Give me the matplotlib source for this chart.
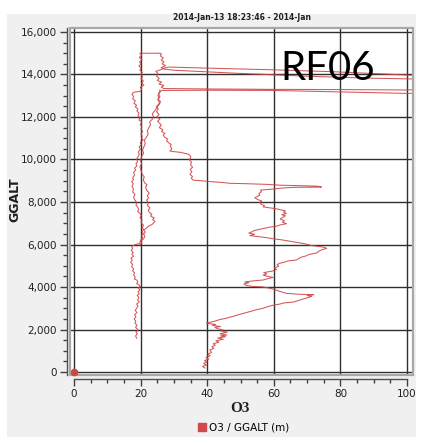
import matplotlib
matplotlib.use("Agg")
import matplotlib.pyplot as plt
from matplotlib.patches import Rectangle
from matplotlib.lines import Line2D
from matplotlib.ticker import MultipleLocator, FuncFormatter

# RF06 profiles: (O3 ppbv, GGALT m)
ascent = [
    (39.3, 190), (38.6, 260), (39.8, 330), (38.9, 400), (39.9, 470), (39.2, 540), (40.5, 610), (39.6, 680), (40.9, 760), (40.2, 840),
    (41.3, 920), (40.8, 1040), (42.0, 1110), (41.4, 1190), (42.4, 1260), (41.8, 1330), (43.5, 1400), (42.6, 1470), (44.8, 1540), (43.2, 1600),
    (45.5, 1660), (44.0, 1700), (45.9, 1740), (43.8, 1800), (46.0, 1870), (44.2, 1930), (44.8, 1980), (43.0, 2040), (42.3, 2100), (44.0, 2140),
    (41.6, 2190), (42.5, 2240), (40.2, 2280), (39.8, 2300), (42.0, 2380), (43.6, 2460), (45.9, 2540), (47.8, 2620), (49.5, 2700), (51.8, 2800),
    (53.2, 2860), (54.8, 2930), (56.8, 3000), (58.0, 3070), (59.5, 3130), (61.9, 3200), (63.0, 3250), (65.8, 3290), (66.5, 3320), (71.4, 3560),
    (70.0, 3600), (72.0, 3640), (67.5, 3660), (63.8, 3700), (62.5, 3760), (61.2, 3830), (59.8, 3900), (58.2, 3960), (56.8, 4000), (53.5, 4030),
    (51.8, 4070), (51.0, 4140), (52.5, 4200), (51.3, 4240), (54.0, 4290), (56.8, 4330), (57.9, 4380), (59.8, 4450), (58.2, 4500), (56.8, 4560),
    (57.9, 4620), (57.0, 4680), (59.6, 4750), (60.8, 4820), (60.2, 4900), (61.5, 4980), (61.0, 5060), (61.9, 5120), (63.5, 5180), (64.2, 5230),
    (66.8, 5270), (67.5, 5340), (68.2, 5400), (69.8, 5470), (70.5, 5530), (72.8, 5600), (73.5, 5680), (74.2, 5740), (75.9, 5820), (74.8, 5880),
    (71.0, 5960), (69.5, 6030), (66.8, 6100), (64.5, 6160), (62.3, 6220), (59.8, 6270), (57.5, 6330), (55.0, 6380), (52.8, 6420), (54.2, 6480),
    (52.5, 6540), (53.5, 6600), (54.0, 6650), (55.8, 6720), (57.5, 6770), (58.8, 6820), (60.8, 6860), (61.9, 6920), (63.8, 6980), (62.6, 7050),
    (63.2, 7120), (61.9, 7200), (62.7, 7280), (63.5, 7350), (62.4, 7400), (63.8, 7460), (62.9, 7520), (63.5, 7580), (62.2, 7630), (60.8, 7680),
    (59.0, 7720), (56.8, 7770), (57.2, 7830), (56.1, 7900), (55.8, 7980), (56.4, 8050), (55.2, 8110), (54.3, 8200), (55.1, 8260), (55.8, 8320),
    (55.5, 8400), (56.3, 8480), (56.0, 8560), (59.8, 8610), (62.8, 8660), (66.0, 8690), (74.3, 8700), (73.5, 8740), (70.0, 8760), (62.0, 8790),
    (57.8, 8830), (52.0, 8860), (46.8, 8880), (44.5, 8920), (40.8, 8960), (38.2, 9000), (35.8, 9030), (35.2, 9120), (35.6, 9200), (34.8, 9300),
    (35.4, 9420), (34.9, 9530), (35.6, 9640), (35.0, 9760), (35.3, 9880), (34.6, 9990), (35.1, 10100), (34.8, 10200), (34.2, 10260), (33.0, 10300),
    (31.8, 10340), (30.0, 10370), (28.8, 10400), (29.4, 10500), (28.9, 10620), (29.2, 10700), (28.4, 10790), (27.8, 10880), (28.1, 10960), (27.2, 11050),
    (26.8, 11150), (27.3, 11230), (26.3, 11320), (26.7, 11400), (25.6, 11500), (26.2, 11600), (25.8, 11700), (25.1, 11800), (25.8, 11900), (24.9, 12000),
    (25.5, 12120), (24.8, 12250), (25.3, 12380), (24.7, 12480), (25.4, 12600), (26.0, 12720), (25.2, 12850), (25.8, 12960), (25.3, 13080), (25.8, 13200),
]

top = [
    (25.8, 13200), (26.5, 13250), (40.0, 13260), (60.0, 13250), (80.0, 13180), (100.0, 13110), (112.0, 13150), (103.0, 13300), (100.0, 13270), (80.0, 13290),
    (60.0, 13300), (40.0, 13320), (27.0, 13340), (26.2, 13400), (27.0, 13480), (25.5, 13560), (26.3, 13640), (25.0, 13720), (25.6, 13820), (24.8, 13920),
    (25.2, 14050), (24.6, 14150), (26.0, 14220), (27.0, 14300), (28.5, 14350), (40.0, 14300), (60.0, 14220), (78.0, 14130), (102.0, 13960), (112.0, 13900),
    (102.0, 13790), (88.0, 13830), (70.0, 13920), (50.0, 14050), (30.0, 14200), (26.8, 14260), (26.2, 14330), (27.5, 14420), (26.5, 14500), (27.0, 14600),
    (26.2, 14680), (26.8, 14780), (25.9, 14880), (26.3, 14960), (25.8, 15000), (23.0, 15000), (20.0, 15000),
]

descent = [
    (19.8, 15000), (20.3, 14900), (19.6, 14800), (20.4, 14700), (19.7, 14600), (20.1, 14500), (19.5, 14400), (20.2, 14300), (19.8, 14210), (20.5, 14100),
    (20.0, 14000), (20.6, 13900), (20.1, 13800), (20.8, 13700), (20.4, 13590), (21.0, 13500), (19.9, 13400), (20.3, 13300), (19.8, 13200), (18.5, 13180),
    (17.8, 13150), (17.4, 13060), (17.9, 12960), (17.6, 12860), (18.4, 12760), (18.0, 12650), (18.8, 12550), (18.4, 12480), (19.2, 12380), (18.9, 12280),
    (19.5, 12180), (19.2, 12080), (19.8, 11960), (19.5, 11860), (20.4, 11760), (19.9, 11650), (20.4, 11540), (20.1, 11430), (20.6, 11320), (20.1, 11200),
    (20.5, 11100), (20.3, 10990), (20.8, 10920), (19.9, 10800), (20.2, 10700), (19.6, 10600), (19.9, 10480), (19.3, 10360), (19.6, 10250), (19.3, 10140),
    (18.8, 10020), (19.1, 9900), (18.6, 9800), (18.9, 9700), (18.2, 9600), (18.5, 9500), (17.9, 9380), (18.2, 9260), (17.6, 9140), (17.9, 9050),
    (17.3, 8960), (17.8, 8850), (17.4, 8740), (17.9, 8600), (17.6, 8480), (18.3, 8360), (17.9, 8220), (18.3, 8090), (18.9, 7960), (18.6, 7860),
    (19.1, 7760), (19.4, 7650), (19.1, 7560), (19.8, 7470), (20.2, 7360), (19.8, 7260), (20.5, 7160), (20.1, 7080), (20.3, 7000), (20.9, 6900),
    (20.5, 6800), (20.9, 6700), (20.4, 6620), (20.8, 6520), (20.3, 6420), (20.6, 6330), (20.2, 6250), (19.9, 6150), (19.8, 6050), (18.5, 6000),
    (17.3, 5920), (17.6, 5820), (17.2, 5720), (17.8, 5620), (17.4, 5540), (17.9, 5450), (17.1, 5360), (17.5, 5260), (17.0, 5160), (17.6, 5060),
    (17.3, 4960), (17.9, 4860), (17.6, 4760), (18.2, 4660), (17.9, 4560), (18.4, 4460), (18.1, 4380), (18.8, 4330), (19.2, 4240), (18.8, 4160),
    (19.5, 4100), (19.9, 4020), (19.3, 3960), (19.8, 3860), (19.2, 3770), (19.6, 3680), (19.0, 3600), (19.5, 3500), (19.1, 3400), (19.6, 3300),
    (18.8, 3200), (19.2, 3100), (18.8, 3000), (18.4, 2900), (18.9, 2800), (18.2, 2700), (18.6, 2600), (18.1, 2500), (18.5, 2400), (18.3, 2300),
    (18.9, 2200), (18.5, 2100), (19.3, 1980), (18.6, 1880), (19.0, 1800), (18.5, 1700), (18.8, 1590),
]

second_climb = [
    (19.8, 5980), (20.4, 6080), (20.0, 6160), (20.8, 6250), (21.3, 6380), (20.9, 6480), (21.4, 6580), (21.0, 6680), (21.8, 6780), (22.3, 6850),
    (23.5, 6950), (24.3, 7090), (23.6, 7180), (24.1, 7250), (23.0, 7340), (23.4, 7420), (22.6, 7520), (22.3, 7620), (22.8, 7720), (22.0, 7850),
    (22.4, 7960), (21.8, 8090), (22.4, 8200), (22.0, 8300), (22.6, 8420), (21.8, 8560), (21.5, 8700), (21.9, 8820), (21.2, 8900), (20.8, 9050),
    (21.1, 9180), (20.5, 9300), (20.2, 9450), (19.8, 9660), (20.3, 9800), (20.0, 9950), (20.3, 10140), (20.9, 10300), (20.6, 10450), (21.0, 10600),
    (21.4, 10750), (21.1, 10900), (21.8, 11070), (22.3, 11200), (22.0, 11350), (22.5, 11500), (23.0, 11650), (22.7, 11760), (23.3, 11860), (23.9, 12000),
    (23.5, 12150), (24.3, 12300), (24.9, 12450), (25.8, 12640), (25.2, 12800), (25.6, 12900), (25.2, 13000), (25.8, 13150), (25.8, 13270),
]

ground = [(0, 0)]

LINE = "#cf4444"
W, H = 426, 443

fig = plt.figure(figsize=(W / 100, H / 100), dpi=100)
fig.patch.set_facecolor("white")
fig.add_artist(Rectangle((7 / W, 1 - 437 / H), 409 / W, 423 / H,
                         transform=fig.transFigure, facecolor="#f0f0f0",
                         edgecolor="none", zorder=0))

ax = fig.add_axes([70 / W, 1 - 375 / H, 343 / W, 347 / H])
ax.set_facecolor("white")

for seg in [ascent, top, descent, second_climb]:
    o3, alt = zip(*seg)
    ax.plot(o3, alt, color=LINE, lw=0.75, alpha=0.9, zorder=3)
g_o3, g_alt = zip(*ground)
ax.plot(g_o3, g_alt, "o", color=LINE, ms=4.5, zorder=7, clip_on=False)

ax.set_xlim(-1.2, 101.8)
ax.set_ylim(-141, 16188)

ax.xaxis.set_major_locator(MultipleLocator(20))
ax.xaxis.set_minor_locator(MultipleLocator(5))
ax.yaxis.set_major_locator(MultipleLocator(2000))
ax.yaxis.set_minor_locator(MultipleLocator(500))
ax.yaxis.set_major_formatter(FuncFormatter(lambda v, p: f"{int(v):,}"))
ax.grid(which="major", color="#303030", lw=1.0, zorder=1)

for s in ["top", "right"]:
    ax.spines[s].set_visible(False)
ax.spines["left"].set_position(("outward", 2.2))
ax.spines["bottom"].set_position(("outward", 3.0))
ax.spines["bottom"].set_bounds(0, 100)
for s in ["left", "bottom"]:
    ax.spines[s].set_color("#505050")
    ax.spines[s].set_linewidth(1.0)
ax.add_patch(Rectangle((0, 0), 1, 1, transform=ax.transAxes, fill=False,
                       edgecolor="#a8a8a8", lw=1.6, clip_on=False, zorder=5))

ax.tick_params(which="major", length=5, width=1, color="#404040",
               labelsize=7.5, labelcolor="#202020", pad=2)
ax.tick_params(which="minor", length=3, width=1, color="#404040")

ax.text(0.612, 0.85, "RF06", transform=ax.transAxes, fontsize=29,
        family="Lato", color="black", va="baseline", zorder=6)

fig.text(242 / W, 1 - 18 / H, "2014-Jan-13 18:23:46 - 2014-Jan",
         ha="center", va="center", fontsize=5.5, fontweight="bold",
         color="#202020")
fig.text(15 / W, 1 - 200 / H, "GGALT", rotation=90, ha="center",
         va="center", fontsize=9, fontweight="bold", color="#202020")
fig.text(240 / W, 1 - 408 / H, "O3", ha="center", va="center",
         fontsize=11, fontweight="bold", family="Liberation Serif",
         color="#202020")

handle = Line2D([], [], marker="s", ls="none", color="#d04848", ms=6)
fig.legend([handle], ["O3 / GGALT (m)"], loc="center",
           bbox_to_anchor=(243 / W, 1 - 428 / H), frameon=False,
           fontsize=7.5, handletextpad=0.2, handlelength=1.0,
           borderpad=0)

fig.savefig("out.png", dpi=100)
